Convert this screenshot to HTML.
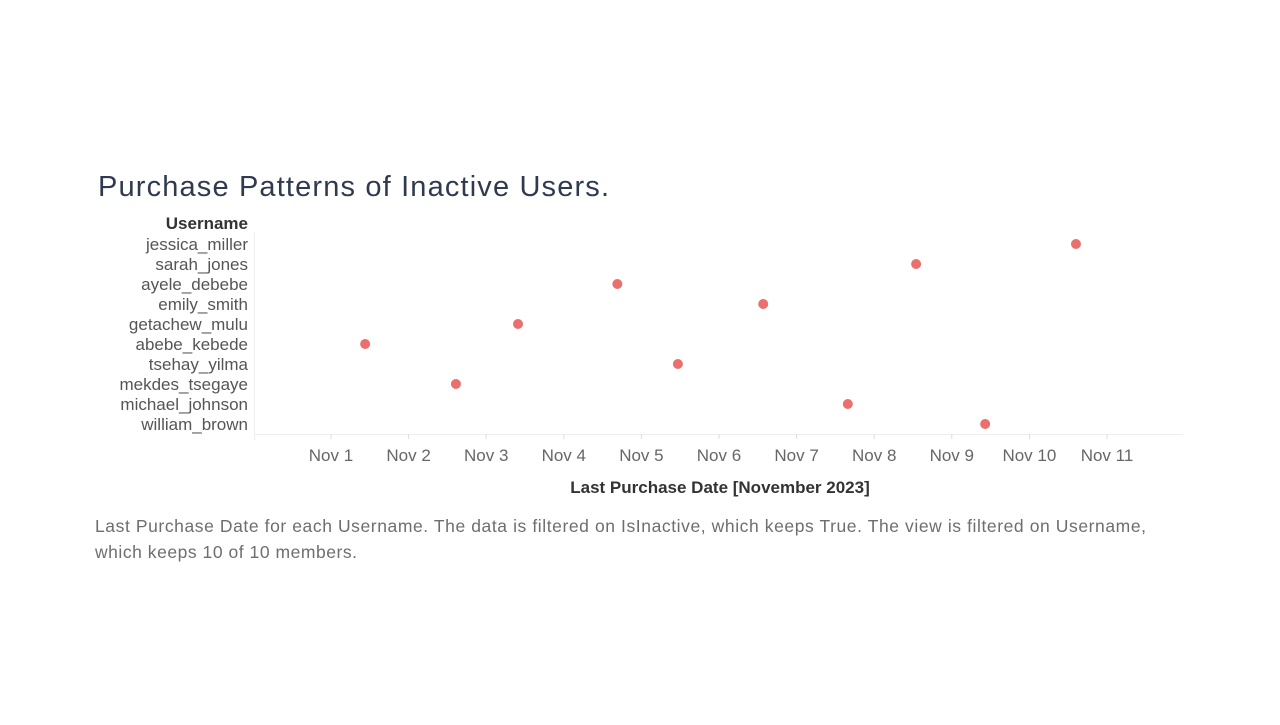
<!DOCTYPE html>
<html><head><meta charset="utf-8"><style>
body{margin:0;background:#fff;width:1280px;height:720px;overflow:hidden;font-family:"Liberation Sans",sans-serif}
</style></head><body>
<svg width="1280" height="720">
<text x="98" y="196" font-size="29" fill="#2f3a4f" font-family="Liberation Sans" textLength="511">Purchase Patterns of Inactive Users.</text>
<text x="248" y="229" font-size="17" font-weight="bold" fill="#333" text-anchor="end">Username</text>
<g id="rows"></g>
<line x1="254.5" y1="232" x2="254.5" y2="440" stroke="#eee"/>
<line x1="254" y1="434.5" x2="1183" y2="434.5" stroke="#eee"/>
<g id="xticks"></g>
<g id="dots"></g>
<text x="720" y="493" font-size="17" font-weight="bold" fill="#333" text-anchor="middle">Last Purchase Date [November 2023]</text>
<text x="95" y="532" font-size="17.5" fill="#6e6e6e" textLength="1051">Last Purchase Date for each Username. The data is filtered on IsInactive, which keeps True. The view is filtered on Username,</text>
<text x="95" y="558" font-size="17.5" fill="#6e6e6e" textLength="262">which keeps 10 of 10 members.</text>
</svg>
<script>
const users=["jessica_miller","sarah_jones","ayele_debebe","emily_smith","getachew_mulu","abebe_kebede","tsehay_yilma","mekdes_tsegaye","michael_johnson","william_brown"];
const days=[10.6,8.54,4.69,6.57,3.41,1.44,5.47,2.61,7.66,9.43];
const tickDays=[1,2,3,4,5,6,7,8,9,10,11];
const tickLabels=["Nov 1","Nov 2","Nov 3","Nov 4","Nov 5","Nov 6","Nov 7","Nov 8","Nov 9","Nov 10","Nov 11"];
const NS="http://www.w3.org/2000/svg";
const xS=d=>331+(d-1)*77.6;
const yS=i=>244+i*20;
const rows=document.getElementById('rows'),xt=document.getElementById('xticks'),dots=document.getElementById('dots');
users.forEach((u,i)=>{
 const t=document.createElementNS(NS,'text');
 t.setAttribute('x',248);t.setAttribute('y',yS(i)+6);t.setAttribute('font-size',17);
 t.setAttribute('fill','#555');t.setAttribute('text-anchor','end');t.textContent=u;
 
 
 rows.appendChild(t);
 const c=document.createElementNS(NS,'circle');
 c.setAttribute('cx',xS(days[i]));c.setAttribute('cy',yS(i));c.setAttribute('r',5);c.setAttribute('fill','#ea6f6d');
 
 
 dots.appendChild(c);
});
tickDays.forEach((d,i)=>{
 const x=xS(d);
 const l=document.createElementNS(NS,'line');
 l.setAttribute('x1',x);l.setAttribute('x2',x);l.setAttribute('y1',434);l.setAttribute('y2',439);l.setAttribute('stroke','#ddd');
 
 
 xt.appendChild(l);
 const t=document.createElementNS(NS,'text');
 t.setAttribute('x',x);t.setAttribute('y',461);t.setAttribute('font-size',17);t.setAttribute('fill','#666');t.setAttribute('text-anchor','middle');
 t.textContent=tickLabels[i];
 
 
 xt.appendChild(t);
});
</script>
</body></html>
